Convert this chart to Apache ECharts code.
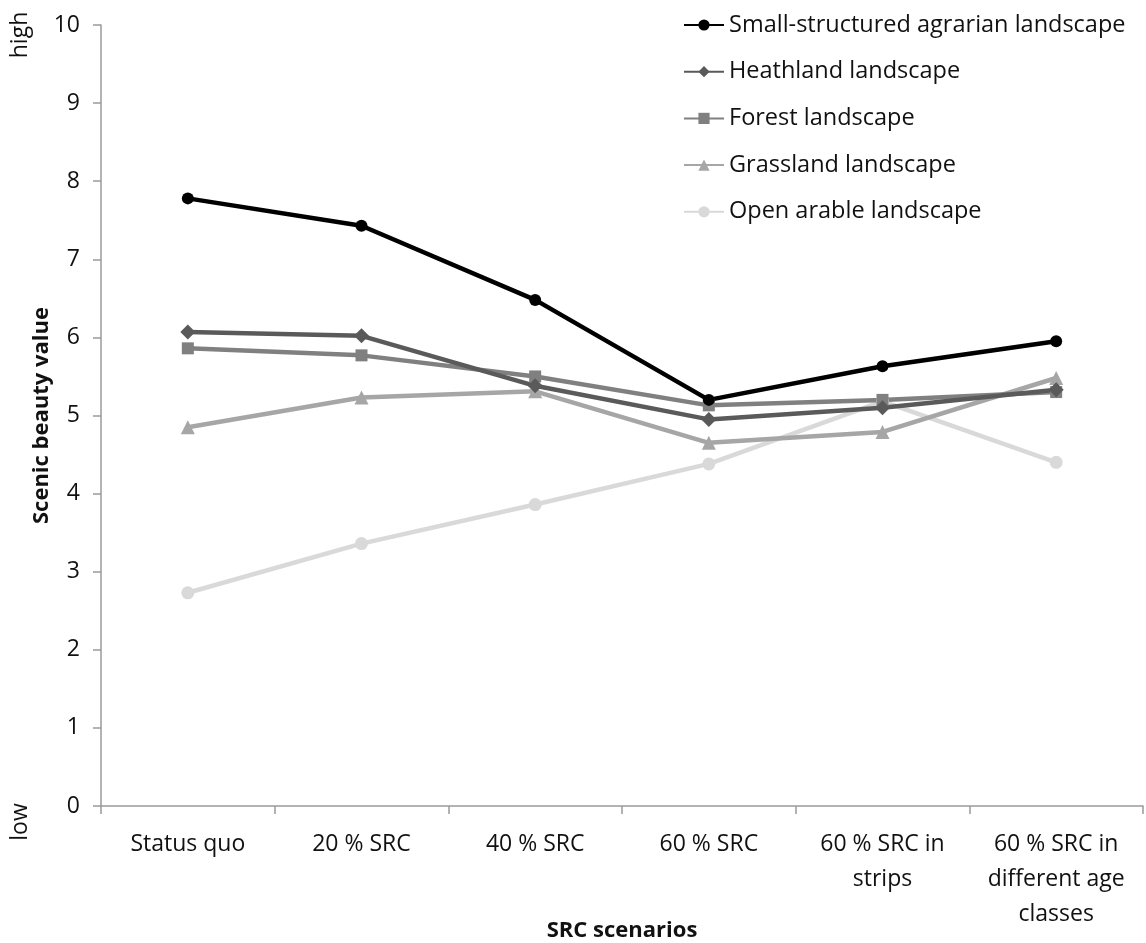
<!DOCTYPE html>
<html>
<head>
<meta charset="utf-8">
<script src="https://cdn.jsdelivr.net/npm/echarts@6/dist/echarts.min.js"></script>
<style>html,body{margin:0;padding:0;background:#fff;overflow:hidden}#c{width:1146px;height:943px}</style>
</head>
<body>
<div id="c"></div>
<script>
const categories = ['Status quo', '20 % SRC', '40 % SRC', '60 % SRC', '60 % SRC in\nstrips', '60 % SRC in\ndifferent age\nclasses'];
const smallStructured = [7.78, 7.43, 6.48, 5.20, 5.63, 5.95];
const heathland = [6.07, 6.02, 5.38, 4.95, 5.10, 5.33];
const forest = [5.86, 5.77, 5.50, 5.13, 5.20, 5.30];
const grassland = [4.85, 5.23, 5.31, 4.65, 4.79, 5.48];
const openArable = [2.73, 3.36, 3.86, 4.38, 5.18, 4.40];
const yTicks = [0, 1, 2, 3, 4, 5, 6, 7, 8, 9, 10];

const FONT = '"Open Sans", "Noto Sans", sans-serif';
const chart = echarts.init(document.getElementById('c'), null, {renderer: 'canvas', width: 1146, height: 943});

function mk(name, data, color, symbol, size) {
  return {
    name, type: 'line', data, symbol, symbolSize: size,
    lineStyle: {color, width: 4.5}, itemStyle: {color},
    emphasis: {disabled: true}, animation: false
  };
}

chart.setOption({
  animation: false,
  backgroundColor: '#fff',
  textStyle: {fontFamily: FONT},
  grid: {left: 101, right: 3, top: 25, height: 781, containLabel: false, outerBoundsMode: 'none'},
  legend: {
    orient: 'vertical', left: 678, top: 7, itemGap: 20.7, itemWidth: 40, itemHeight: 14,
    textStyle: {fontFamily: FONT, fontSize: 23.5, lineHeight: 26, color: '#111'},
    data: ['Small-structured agrarian landscape', 'Heathland landscape', 'Forest landscape', 'Grassland landscape', 'Open arable landscape']
  },
  xAxis: {
    type: 'category', data: categories, boundaryGap: true,
    name: 'SRC scenarios', nameLocation: 'middle', nameGap: 114, nameMoveOverlap: false,
    nameTextStyle: {fontFamily: FONT, fontSize: 22, fontWeight: 'bold', color: '#111'},
    axisLine: {lineStyle: {color: '#9a9a9a', width: 1.5}},
    axisTick: {show: true, length: 8, lineStyle: {color: '#9a9a9a', width: 1.5}, alignWithLabel: false},
    axisLabel: {fontFamily: FONT, fontSize: 23, color: '#111', margin: 21, lineHeight: 35, interval: 0}
  },
  yAxis: {
    type: 'value', min: yTicks[0], max: yTicks[yTicks.length - 1], interval: 1,
    name: 'Scenic beauty value', nameLocation: 'middle', nameGap: 48, nameRotate: 90, nameMoveOverlap: false,
    nameTextStyle: {fontFamily: FONT, fontSize: 22, fontWeight: 'bold', color: '#111'},
    axisLine: {show: true, lineStyle: {color: '#9a9a9a', width: 1.5}},
    axisTick: {show: true, length: 8, lineStyle: {color: '#9a9a9a', width: 1.5}},
    splitLine: {show: false},
    axisLabel: {fontFamily: FONT, fontSize: 23, color: '#111', margin: 21}
  },
  graphic: [
    {type: 'text', x: 20, y: 35, rotation: Math.PI / 2, style: {text: 'high', font: '23px ' + FONT, fill: '#111', align: 'center', verticalAlign: 'middle'}},
    {type: 'text', x: 20, y: 822, rotation: Math.PI / 2, style: {text: 'low', font: '23px ' + FONT, fill: '#111', align: 'center', verticalAlign: 'middle'}}
  ],
  series: [
    mk('Open arable landscape', openArable, '#d9d9d9', 'circle', 13),
    mk('Grassland landscape', grassland, '#a6a6a6', 'triangle', 14),
    mk('Forest landscape', forest, '#808080', 'rect', 12),
    mk('Heathland landscape', heathland, '#5a5a5a', 'diamond', 15),
    mk('Small-structured agrarian landscape', smallStructured, '#000000', 'circle', 12)
  ]
});
</script>
</body>
</html>
